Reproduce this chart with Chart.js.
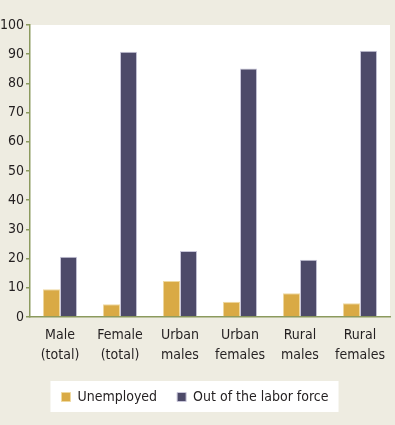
<!DOCTYPE html>
<html>
<head>
<meta charset="utf-8">
<script src="https://cdn.jsdelivr.net/npm/chart.js@4.4.1/dist/chart.umd.min.js"></script>
<style>
html,body{margin:0;padding:0;background:#eeece1;}
#wrap{width:395px;height:425px;}
</style>
</head>
<body>
<div id="wrap"><canvas id="c" width="395" height="425"></canvas></div>
<script>
const categories = [["Male","(total)"],["Female","(total)"],["Urban","males"],["Urban","females"],["Rural","males"],["Rural","females"]];
const unemployed = [9.5, 4.4, 12.3, 5.2, 8.1, 4.7];
const outOfLaborForce = [20.6, 90.8, 22.6, 85.1, 19.6, 91.2];
const seriesNames = ["Unemployed", "Out of the labor force"];
const yTicks = [0,10,20,30,40,50,60,70,80,90,100];

const FONT = "'DejaVu Sans Condensed', 'Liberation Sans Narrow', sans-serif";
const OLIVE = '#8b9a5e';

const bgPlugin = {
  id: 'bg',
  beforeDraw(chart) {
    const ctx = chart.ctx;
    const a = chart.chartArea;
    ctx.save();
    ctx.fillStyle = '#eeece1';
    ctx.fillRect(0, 0, chart.width, chart.height);
    ctx.fillStyle = '#ffffff';
    ctx.fillRect(a.left, a.top, a.right - a.left, a.bottom - a.top);
    const lg = chart.legend;
    if (lg && lg.legendHitBoxes && lg.legendHitBoxes.length) {
      let l = Infinity, r = -Infinity, t = Infinity, b = -Infinity;
      lg.legendHitBoxes.forEach(h => {
        l = Math.min(l, h.left); r = Math.max(r, h.left + h.width);
        t = Math.min(t, h.top); b = Math.max(b, h.top + h.height);
      });
      ctx.fillRect(l - 11, t - 9, (r - l) + 21, (b - t) + 17);
    }
    ctx.restore();
  }
};

new Chart(document.getElementById('c'), {
  type: 'bar',
  data: {
    labels: categories,
    datasets: [
      { label: seriesNames[0], data: unemployed, backgroundColor: '#d9aa45', borderColor: '#efd9a0', borderWidth: 1 },
      { label: seriesNames[1], data: outOfLaborForce, backgroundColor: '#4d4a69', borderColor: '#c9c7da', borderWidth: 1 }
    ]
  },
  plugins: [bgPlugin],
  options: {
    responsive: false,
    animation: false,
    devicePixelRatio: 1,
    layout: { padding: { left: 0, right: 5, top: 25, bottom: 11 } },
    datasets: { bar: { categoryPercentage: 0.57, barPercentage: 1.0 } },
    scales: {
      x: {
        grid: { display: false, drawOnChartArea: false, drawTicks: false },
        border: { display: true, color: OLIVE, width: 1.5 },
        ticks: { padding: 8, color: '#231f20', font: { family: FONT, size: 14, lineHeight: 1.43 }, maxRotation: 0, autoSkip: false },
        afterFit(scale) { scale.height = 53; }
      },
      y: {
        min: 0, max: 100,
        afterBuildTicks(scale) { scale.ticks = yTicks.map(v => ({ value: v })); },
        grid: { drawOnChartArea: false, drawTicks: true, tickLength: 4, color: OLIVE, lineWidth: 1.5 },
        border: { display: true, color: OLIVE, width: 1.5 },
        ticks: { padding: 2, color: '#231f20', font: { family: FONT, size: 14 } },
        afterFit(scale) { scale.width = 30; }
      }
    },
    plugins: {
      legend: {
        position: 'bottom',
        labels: { boxWidth: 9, boxHeight: 9, padding: 20, color: '#231f20', font: { family: FONT, size: 14 } }
      },
      tooltip: { enabled: false }
    }
  }
});
</script>
</body>
</html>
